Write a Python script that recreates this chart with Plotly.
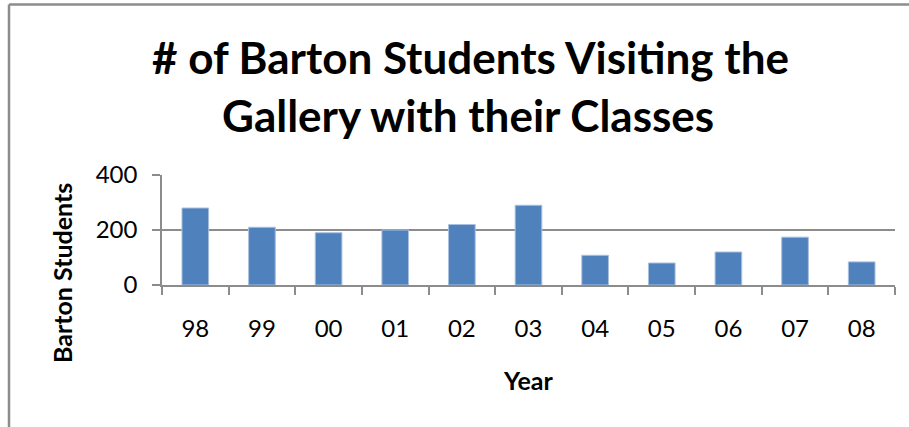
import plotly.graph_objects as go

years = ["98", "99", "00", "01", "02", "03", "04", "05", "06", "07", "08"]
students = [280, 210, 190, 200, 220, 290, 108, 80, 120, 174, 84]
y_ticks = [0, 200, 400]
title_lines = ["# of Barton Students Visiting the", "Gallery with their Classes"]

W, H = 909, 427
L, R, T, B = 162, 14, 175, 142
PW, PH = W - L - R, H - T - B

def px(x):
    return (x - L) / PW

def py(y):
    return (H - B - y) / PH

FONT = "Lato"
GRID = "#8c8c8c"

fig = go.Figure(go.Bar(
    x=years, y=students,
    marker=dict(color="#4f81bd", line=dict(color="#a9c0de", width=1)),
    width=0.4,
))

annotations = [
    dict(text=title_lines[0], x=px(470), y=py(57), xref="paper", yref="paper",
         showarrow=False, xanchor="center", yanchor="middle",
         font=dict(family=FONT, size=44, color="black", weight="bold")),
    dict(text=title_lines[1], x=px(468), y=py(115), xref="paper", yref="paper",
         showarrow=False, xanchor="center", yanchor="middle",
         font=dict(family=FONT, size=44, color="black", weight="bold")),
    dict(text="Barton Students", x=px(62), y=py(273), xref="paper", yref="paper",
         showarrow=False, xanchor="center", yanchor="middle", textangle=-90,
         font=dict(family=FONT, size=25, color="black", weight="bold")),
    dict(text="Year", x=px(528), y=py(380), xref="paper", yref="paper",
         showarrow=False, xanchor="center", yanchor="middle",
         font=dict(family=FONT, size=25, color="black", weight="bold")),
]

shapes = [
    dict(type="line", xref="paper", yref="paper", x0=px(9), x1=px(9), y0=py(H + 5), y1=py(4.5),
         line=dict(color="#8c8c8c", width=2.5)),
    dict(type="line", xref="paper", yref="paper", x0=px(9), x1=px(W), y0=py(4.5), y1=py(4.5),
         line=dict(color="#8c8c8c", width=2.5)),
]

fig.update_layout(
    width=W, height=H,
    margin=dict(l=L, r=R, t=T, b=B),
    paper_bgcolor="white", plot_bgcolor="white",
    showlegend=False,
    annotations=annotations,
    shapes=shapes,
    font=dict(family=FONT, color="black"),
)
fig.update_xaxes(
    type="category", showgrid=False, showline=True, linecolor=GRID, linewidth=1.5,
    ticks="outside", tickson="boundaries", ticklen=8, tickcolor=GRID, tickwidth=1.5,
    tickfont=dict(family=FONT, size=24, color="black"), ticklabelstandoff=21,
)
fig.update_yaxes(
    range=[0, 400], tickvals=y_ticks, showgrid=True, gridcolor=GRID, gridwidth=1.5,
    zeroline=False, showline=True, linecolor=GRID, linewidth=1.5,
    ticks="outside", ticklen=8, tickcolor=GRID, tickwidth=1.5,
    tickfont=dict(family=FONT, size=24, color="black"), ticklabelstandoff=10,
)

fig.write_html("out.html", config={"displayModeBar": False},
               post_script="document.body.style.margin='0';document.body.style.overflow='hidden';")
